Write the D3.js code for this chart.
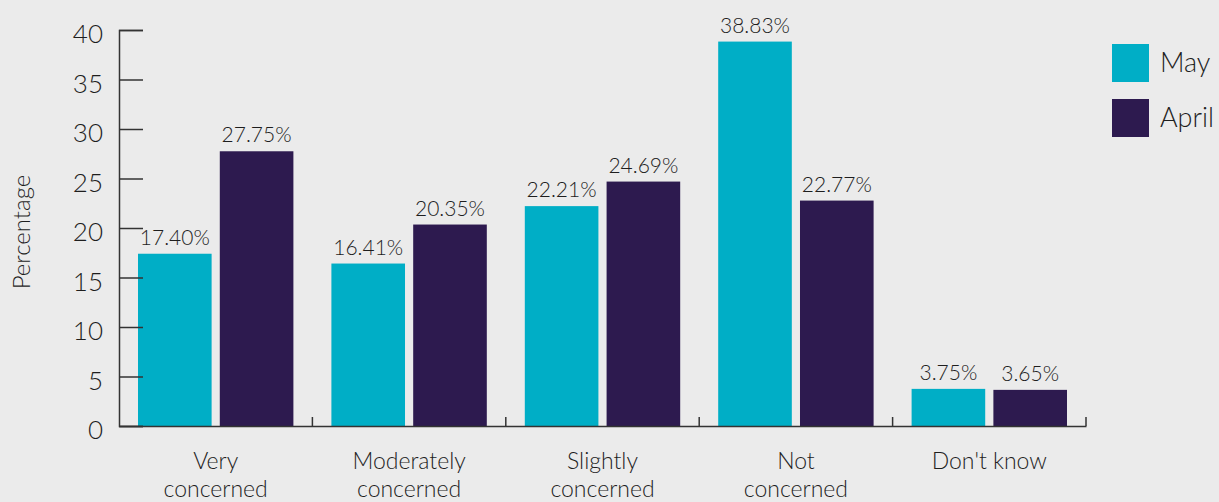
<!DOCTYPE html>
<html>
<head>
<meta charset="utf-8">
<script src="https://cdn.jsdelivr.net/npm/d3@7"></script>
<style>
  html, body { margin: 0; padding: 0; background: #ebebeb; }
  svg { display: block; font-family: Lato, "Open Sans", sans-serif; font-weight: 300; }
</style>
</head>
<body>
<svg id="chart" width="1219" height="502"></svg>
<script>
// Level of concern, share of respondents by survey month
const categories = [["Very", "concerned"], ["Moderately", "concerned"], ["Slightly", "concerned"], ["Not", "concerned"], ["Don't know"]];
const seriesNames = ["May", "April"];
const mayValues = [17.40, 16.41, 22.21, 38.83, 3.75];
const aprilValues = [27.75, 20.35, 24.69, 22.77, 3.65];
const yTicks = [0, 5, 10, 15, 20, 25, 30, 35, 40];
const colors = ["#00aec6", "#2d1a4f"];

const svg = d3.select("#chart");
const margin = { left: 119, right: 133, top: 30, bottom: 76 };
const W = 1219, H = 502;
const plotBottom = H - margin.bottom;

const keys = categories.map(c => c.join(" "));
const x = d3.scaleBand().domain(keys).range([margin.left, W - margin.right]).paddingInner(0).paddingOuter(0);
const inner = d3.scaleBand().domain(seriesNames).range([19, x.bandwidth() - 19]).paddingInner(0.1);
const y = d3.scaleLinear().domain([0, 40]).range([plotBottom, margin.top]);

const values = { May: mayValues, April: aprilValues };
const ink = "#1e1e1e";

// bars
const groups = svg.append("g").selectAll("g").data(keys).join("g")
  .attr("transform", d => `translate(${x(d)},0)`);

groups.selectAll("rect")
  .data((d, i) => seriesNames.map((s, j) => ({ s, j, v: values[s][i] })))
  .join("rect")
  .attr("x", d => inner(d.s))
  .attr("width", inner.bandwidth())
  .attr("y", d => y(d.v))
  .attr("height", d => y(0) - y(d.v))
  .attr("fill", d => colors[d.j]);

// value labels
groups.selectAll("text.val")
  .data((d, i) => seriesNames.map((s, j) => ({ s, j, v: values[s][i] })))
  .join("text")
  .attr("class", "val")
  .attr("x", d => inner(d.s) + inner.bandwidth() / 2)
  .attr("y", d => y(d.v) - 9)
  .attr("text-anchor", "middle")
  .attr("font-size", 21)
  .attr("fill", ink)
  .text(d => d.v.toFixed(2) + "%");

// y axis
const yAxis = svg.append("g").attr("transform", `translate(${margin.left},0)`)
  .call(d3.axisRight(y).tickValues(yTicks).tickSize(24).tickFormat(""));
yAxis.select(".domain").attr("stroke", "#333").attr("stroke-width", 1.5);
yAxis.selectAll(".tick line").attr("stroke", "#333").attr("stroke-width", 1.5);

svg.append("g").selectAll("text").data(yTicks).join("text")
  .attr("x", margin.left - 16)
  .attr("y", d => y(d))
  .attr("dy", "0.5em")
  .attr("text-anchor", "end")
  .attr("font-size", 26)
  .attr("fill", ink)
  .text(d => d);

// x axis
const xAxis = svg.append("g").attr("transform", `translate(0,${plotBottom})`)
  .call(d3.axisBottom(x).tickSize(0).tickFormat(""));
xAxis.select(".domain").attr("stroke", "#333").attr("stroke-width", 1.5);
xAxis.selectAll(".tick").remove();
xAxis.selectAll("line.sep").data(keys).join("line")
  .attr("class", "sep")
  .attr("x1", d => x(d) + x.bandwidth()).attr("x2", d => x(d) + x.bandwidth())
  .attr("y1", 0).attr("y2", -9)
  .attr("stroke", "#333").attr("stroke-width", 1.5);

// category labels
const catLabels = svg.append("g").selectAll("text").data(categories).join("text")
  .attr("x", (d, i) => x(keys[i]) + x.bandwidth() / 2)
  .attr("y", plotBottom + 43)
  .attr("text-anchor", "middle")
  .attr("font-size", 23)
  .attr("fill", ink);
catLabels.selectAll("tspan").data(d => d).join("tspan")
  .attr("x", function () { return d3.select(this.parentNode).attr("x"); })
  .attr("dy", (d, i) => i === 0 ? 0 : 28)
  .text(d => d);

// y axis title
svg.append("text")
  .attr("transform", `translate(30,${(margin.top + plotBottom) / 2 + 4}) rotate(-90)`)
  .attr("text-anchor", "middle")
  .attr("font-size", 24)
  .attr("fill", ink)
  .text("Percentage");

// legend
const legend = svg.append("g").attr("transform", "translate(1112,44)");
const li = legend.selectAll("g").data(seriesNames).join("g")
  .attr("transform", (d, i) => `translate(0,${i * 55})`);
li.append("rect").attr("width", 37).attr("height", 38).attr("fill", (d, i) => colors[i]);
li.append("text").attr("x", 48).attr("y", 19).attr("dy", "0.35em")
  .attr("font-size", 27).attr("fill", ink).text(d => d);
</script>
</body>
</html>
